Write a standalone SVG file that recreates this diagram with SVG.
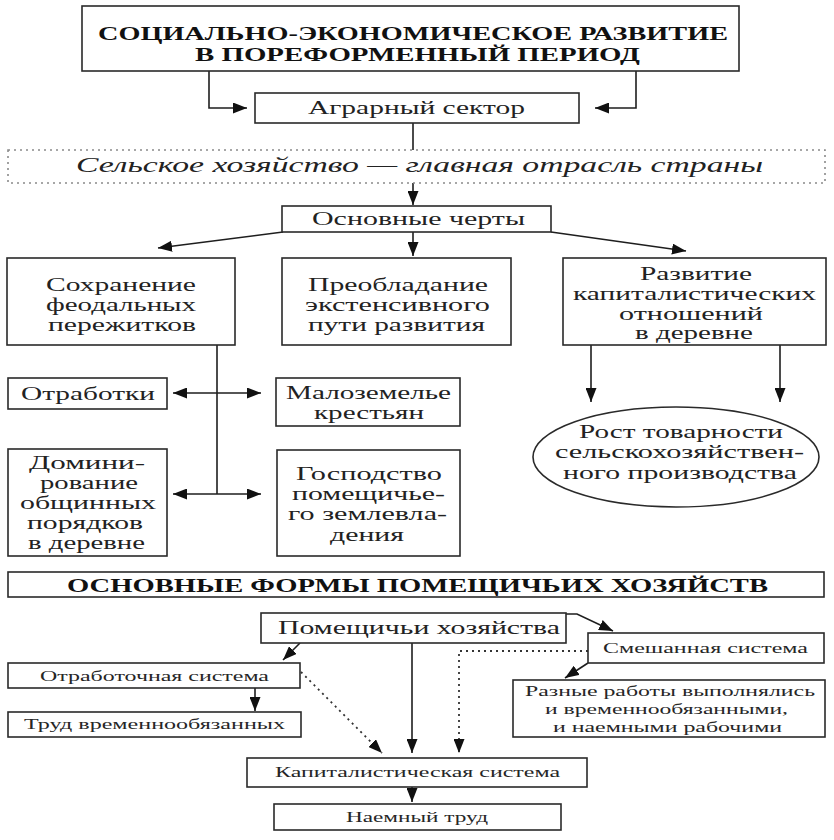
<svg xmlns="http://www.w3.org/2000/svg" width="834" height="840" viewBox="0 0 834 840">
<defs>
<style>
.box{fill:#fff;stroke:#2a2a2a;stroke-width:1.6}
.dbox{fill:#fff;stroke:#8a8a8a;stroke-width:1.6;stroke-dasharray:2 4}
.t{font-family:"Liberation Serif","Times New Roman",serif;font-size:18px;fill:#222}
.tb{font-family:"Liberation Serif","Times New Roman",serif;font-size:19px;font-weight:bold;fill:#111}
.ti{font-family:"Liberation Serif","Times New Roman",serif;font-size:21px;font-style:italic;fill:#222}
.ts{font-family:"Liberation Serif","Times New Roman",serif;font-size:15px;fill:#262626}
.c{fill:none;stroke:#1e1e1e;stroke-width:1.6}
.cd{fill:none;stroke:#333;stroke-width:1.8;stroke-dasharray:2 4}
</style>
<marker id="ah" viewBox="0 0 14 11" refX="14" refY="5.5" markerWidth="14" markerHeight="11" markerUnits="userSpaceOnUse" orient="auto-start-reverse">
<path d="M0,0 L14,5.5 L0,11 z" fill="#111"/>
</marker>
</defs>
<rect width="834" height="840" fill="#fff"/>

<g id="connectors">
<path class="c" d="M209,71 V108 H247" marker-end="url(#ah)"/>
<path class="c" d="M636,71 V108 H595" marker-end="url(#ah)"/>
<path class="c" d="M413,123 V150"/>
<path class="c" d="M413,183 V205" marker-end="url(#ah)"/>
<path class="c" d="M283,232 L158,248" marker-end="url(#ah)"/>
<path class="c" d="M413,232 V256" marker-end="url(#ah)"/>
<path class="c" d="M551,232 L686,251" marker-end="url(#ah)"/>
<path class="c" d="M217,345 V494"/>
<path class="c" d="M173,393 H261" marker-start="url(#ah)" marker-end="url(#ah)"/>
<path class="c" d="M173,494 H261" marker-start="url(#ah)" marker-end="url(#ah)"/>
<path class="c" d="M591,345 V402" marker-end="url(#ah)"/>
<path class="c" d="M780,345 V402" marker-end="url(#ah)"/>
<path class="c" d="M566,614 H577 L613,631" marker-end="url(#ah)"/>
<path class="c" d="M300,643 L283,660" marker-end="url(#ah)"/>
<path class="c" d="M255,688 V711" marker-end="url(#ah)"/>
<path class="cd" d="M301,672 L382,753" marker-end="url(#ah)"/>
<path class="c" d="M412,643 V753" marker-end="url(#ah)"/>
<path class="cd" d="M588,651 H459 V753" marker-end="url(#ah)"/>
<path class="c" d="M588,663 L565,678" marker-end="url(#ah)"/>
<path class="c" d="M412,787 V802" marker-end="url(#ah)"/>
</g>

<g id="title">
<rect class="box" x="82" y="6" width="657" height="65"/>
<text class="tb" x="98" y="40" textLength="630" lengthAdjust="spacingAndGlyphs">СОЦИАЛЬНО-ЭКОНОМИЧЕСКОЕ РАЗВИТИЕ</text>
<text class="tb" x="195" y="61" textLength="445" lengthAdjust="spacingAndGlyphs">В ПОРЕФОРМЕННЫЙ ПЕРИОД</text>
</g>

<g id="agrarian">
<rect class="box" x="255" y="93" width="324" height="30"/>
<text class="t" x="308" y="114" textLength="217" lengthAdjust="spacingAndGlyphs">Аграрный сектор</text>
</g>

<g id="agriculture">
<rect class="dbox" x="8" y="150" width="817" height="33"/>
<text class="ti" x="76" y="172" textLength="687" lengthAdjust="spacingAndGlyphs">Сельское хозяйство — главная отрасль страны</text>
</g>

<g id="features">
<rect class="box" x="282" y="206" width="269" height="26"/>
<text class="t" x="312" y="225" textLength="213" lengthAdjust="spacingAndGlyphs">Основные черты</text>
</g>

<g id="feudal">
<rect class="box" x="7" y="258" width="228" height="87"/>
<text class="t" x="46" y="291" textLength="150" lengthAdjust="spacingAndGlyphs">Сохранение</text>
<text class="t" x="46" y="311" textLength="150" lengthAdjust="spacingAndGlyphs">феодальных</text>
<text class="t" x="48" y="331" textLength="148" lengthAdjust="spacingAndGlyphs">пережитков</text>
</g>

<g id="extensive">
<rect class="box" x="282" y="258" width="229" height="87"/>
<text class="t" x="308" y="291" textLength="180" lengthAdjust="spacingAndGlyphs">Преобладание</text>
<text class="t" x="305" y="311" textLength="185" lengthAdjust="spacingAndGlyphs">экстенсивного</text>
<text class="t" x="308" y="331" textLength="177" lengthAdjust="spacingAndGlyphs">пути развития</text>
</g>

<g id="capitalist-relations">
<rect class="box" x="563" y="258" width="263" height="87"/>
<text class="t" x="640" y="280" textLength="112" lengthAdjust="spacingAndGlyphs">Развитие</text>
<text class="t" x="573" y="300" textLength="243" lengthAdjust="spacingAndGlyphs">капиталистических</text>
<text class="t" x="619" y="320" textLength="144" lengthAdjust="spacingAndGlyphs">отношений</text>
<text class="t" x="635" y="339" textLength="118" lengthAdjust="spacingAndGlyphs">в деревне</text>
</g>

<g id="otrabotki">
<rect class="box" x="8" y="378" width="159" height="31"/>
<text class="t" x="21" y="400" textLength="134" lengthAdjust="spacingAndGlyphs">Отработки</text>
</g>

<g id="malozemelie">
<rect class="box" x="276" y="378" width="184" height="48"/>
<text class="t" x="286" y="399" textLength="165" lengthAdjust="spacingAndGlyphs">Малоземелье</text>
<text class="t" x="314" y="419" textLength="110" lengthAdjust="spacingAndGlyphs">крестьян</text>
</g>

<g id="community">
<rect class="box" x="8" y="449" width="159" height="107"/>
<text class="t" x="29" y="469" textLength="116" lengthAdjust="spacingAndGlyphs">Домини-</text>
<text class="t" x="40" y="489" textLength="98" lengthAdjust="spacingAndGlyphs">рование</text>
<text class="t" x="20" y="509" textLength="136" lengthAdjust="spacingAndGlyphs">общинных</text>
<text class="t" x="27" y="529" textLength="116" lengthAdjust="spacingAndGlyphs">порядков</text>
<text class="t" x="28" y="549" textLength="117" lengthAdjust="spacingAndGlyphs">в деревне</text>
</g>

<g id="landownership">
<rect class="box" x="277" y="450" width="183" height="106"/>
<text class="t" x="296" y="480" textLength="146" lengthAdjust="spacingAndGlyphs">Господство</text>
<text class="t" x="292" y="500" textLength="153" lengthAdjust="spacingAndGlyphs">помещичье-</text>
<text class="t" x="288" y="520" textLength="159" lengthAdjust="spacingAndGlyphs">го землевла-</text>
<text class="t" x="330" y="541" textLength="74" lengthAdjust="spacingAndGlyphs">дения</text>
</g>

<g id="marketability">
<ellipse class="box" cx="676" cy="457" rx="143" ry="50"/>
<text class="t" x="579" y="438" textLength="204" lengthAdjust="spacingAndGlyphs">Рост товарности</text>
<text class="t" x="555" y="458" textLength="249" lengthAdjust="spacingAndGlyphs">сельскохозяйствен-</text>
<text class="t" x="563" y="479" textLength="234" lengthAdjust="spacingAndGlyphs">ного производства</text>
</g>

<g id="forms-title">
<rect class="box" x="8" y="572" width="816" height="25"/>
<text class="tb" x="67" y="592" textLength="701" lengthAdjust="spacingAndGlyphs">ОСНОВНЫЕ ФОРМЫ ПОМЕЩИЧЬИХ ХОЗЯЙСТВ</text>
</g>

<g id="landlord-farms">
<rect class="box" x="261" y="613" width="305" height="30"/>
<text class="t" x="278" y="634" textLength="282" lengthAdjust="spacingAndGlyphs">Помещичьи хозяйства</text>
</g>

<g id="mixed">
<rect class="box" x="588" y="633" width="236" height="30"/>
<text class="ts" x="603" y="653" textLength="205" lengthAdjust="spacingAndGlyphs">Смешанная система</text>
</g>

<g id="labor-service">
<rect class="box" x="8" y="663" width="292" height="25"/>
<text class="ts" x="40" y="681" textLength="229" lengthAdjust="spacingAndGlyphs">Отработочная система</text>
</g>

<g id="temporary">
<rect class="box" x="8" y="712" width="293" height="25"/>
<text class="ts" x="24" y="729" textLength="261" lengthAdjust="spacingAndGlyphs">Труд временнообязанных</text>
</g>

<g id="various">
<rect class="box" x="513" y="680" width="312" height="57"/>
<text class="ts" x="525" y="696" textLength="290" lengthAdjust="spacingAndGlyphs">Разные работы выполнялись</text>
<text class="ts" x="545" y="714" textLength="243" lengthAdjust="spacingAndGlyphs">и временнообязанными,</text>
<text class="ts" x="553" y="732" textLength="229" lengthAdjust="spacingAndGlyphs">и наемными рабочими</text>
</g>

<g id="capitalist-system">
<rect class="box" x="247" y="758" width="340" height="29"/>
<text class="ts" x="275" y="777" textLength="285" lengthAdjust="spacingAndGlyphs">Капиталистическая система</text>
</g>

<g id="hired">
<rect class="box" x="274" y="804" width="287" height="26"/>
<text class="ts" x="346" y="822" textLength="142" lengthAdjust="spacingAndGlyphs">Наемный труд</text>
</g>
</svg>
